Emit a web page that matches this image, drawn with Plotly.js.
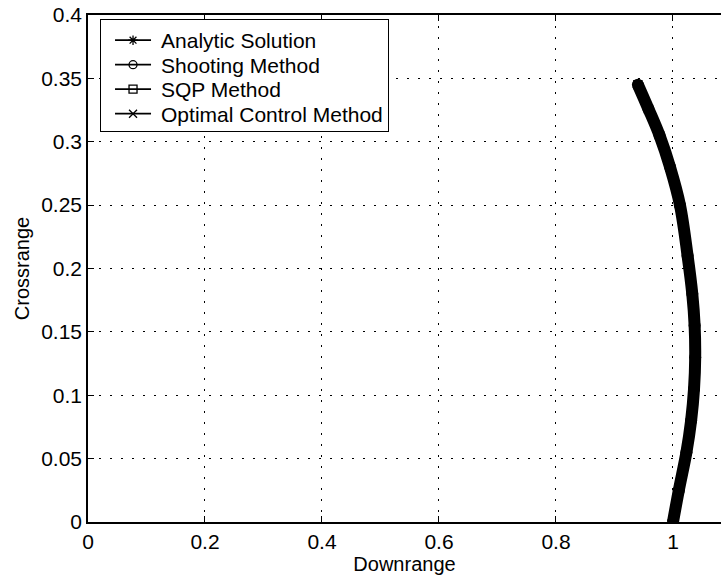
<!DOCTYPE html>
<html>
<head>
<meta charset="utf-8">
<script src="https://cdn.plot.ly/plotly-3.0.1.min.js"></script>
<style>html,body{margin:0;padding:0;background:#fff;}#chart{width:721px;height:584px;}</style>
</head>
<body>
<div id="chart"></div>
<script>
// Trajectory (Downrange, Crossrange)
const downrange = [1.000, 1.010, 1.023, 1.031, 1.036, 1.038, 1.037, 1.033, 1.025, 1.012, 0.995, 0.977, 0.958, 0.940];
const crossrange = [0.000, 0.025, 0.055, 0.080, 0.105, 0.130, 0.155, 0.180, 0.210, 0.250, 0.280, 0.305, 0.326, 0.345];

const seriesNames = ["Analytic Solution", "Shooting Method", "SQP Method", "Optimal Control Method"];
const seriesSymbols = ["asterisk-open", "circle-open", "square-open", "x-thin-open"];

const xTickVals = [0, 0.2, 0.4, 0.6, 0.8, 1];
const xTickText = ["0", "0.2", "0.4", "0.6", "0.8", "1"];
const yTickVals = [0, 0.05, 0.1, 0.15, 0.2, 0.25, 0.3, 0.35, 0.4];
const yTickText = ["0", "0.05", "0.1", "0.15", "0.2", "0.25", "0.3", "0.35", "0.4"];

const FONT = "'Liberation Sans', Arial, Helvetica, sans-serif";

const traces = seriesNames.map((name, i) => ({
  type: "scatter",
  mode: "lines+markers",
  name: name,
  x: downrange,
  y: crossrange,
  line: {color: "#000", width: 1.8, shape: "spline"},
  marker: {symbol: seriesSymbols[i], size: 8, color: "#000", line: {color: "#000", width: 1.3}}
}));

traces.push({
  type: "scatter",
  mode: "lines+markers",
  x: downrange,
  y: crossrange,
  showlegend: false,
  hoverinfo: "skip",
  line: {color: "#000", width: 12, shape: "spline"},
  marker: {symbol: "circle", size: 12, color: "#000"}
});

const layout = {
  width: 721,
  height: 584,
  paper_bgcolor: "#fff",
  plot_bgcolor: "#fff",
  margin: {l: 88, r: 0, t: 15, b: 62},
  font: {family: FONT, size: 21, color: "#000"},
  showlegend: true,
  legend: {
    x: 0.019, y: 0.992, xanchor: "left", yanchor: "top",
    bgcolor: "#fff", bordercolor: "#000", borderwidth: 1,
    font: {family: FONT, size: 21, color: "#000"},
    itemwidth: 50,
    tracegroupgap: 0
  },
  xaxis: {
    range: [0, 1.0821],
    tickvals: xTickVals, ticktext: xTickText,
    ticks: "inside", ticklen: 6, tickcolor: "#000", tickwidth: 1,
    showline: true, linecolor: "#000", linewidth: 1.8, mirror: "ticks",
    showgrid: true, gridcolor: "#000", gridwidth: 1, griddash: "2px,9px",
    zeroline: false,
    tickfont: {family: FONT, size: 21, color: "#000"},
    title: {text: "Downrange", font: {family: FONT, size: 20, color: "#000"}, standoff: 4}
  },
  yaxis: {
    range: [0, 0.4],
    tickvals: yTickVals, ticktext: yTickText,
    ticks: "inside", ticklen: 6, tickcolor: "#000", tickwidth: 1,
    showline: true, linecolor: "#000", linewidth: 1.8, mirror: false,
    showgrid: true, gridcolor: "#000", gridwidth: 1, griddash: "2px,9px",
    zeroline: false,
    tickfont: {family: FONT, size: 21, color: "#000"},
    title: {text: "Crossrange", font: {family: FONT, size: 20, color: "#000"}, standoff: 6}
  }
};

Plotly.newPlot("chart", traces, layout, {displayModeBar: false, staticPlot: true}).then(function (gd) {
  // tighten legend row spacing and symbol placement to match the reference
  const rowGap = 24.5;
  const items = gd.querySelectorAll(".legend .traces");
  if (items.length < 2) return;
  const parse = el => {
    const m = /translate\(\s*([-\d.]+)[ ,]+([-\d.]+)/.exec(el.getAttribute("transform") || "");
    return m ? [parseFloat(m[1]), parseFloat(m[2])] : null;
  };
  const p0 = parse(items[0]), p1 = parse(items[1]);
  if (!p0 || !p1) return;
  const orig = p1[1] - p0[1];
  items.forEach((el, i) => {
    const p = parse(el);
    if (p) el.setAttribute("transform", "translate(" + p[0] + "," + (p0[1] + i * rowGap) + ")");
    el.querySelectorAll("path.js-line").forEach(l => l.setAttribute("d", "M14,0h36"));
    el.querySelectorAll(".legendpoints path.scatterpts").forEach(s => s.setAttribute("transform", "translate(32,0)"));
  });
  const shrink = (orig - rowGap) * (items.length - 1) + 4;
  const bg = gd.querySelector(".legend rect.bg");
  if (bg) {
    const h = parseFloat(bg.getAttribute("height"));
    bg.setAttribute("height", h - shrink);
  }
});
</script>
</body>
</html>
